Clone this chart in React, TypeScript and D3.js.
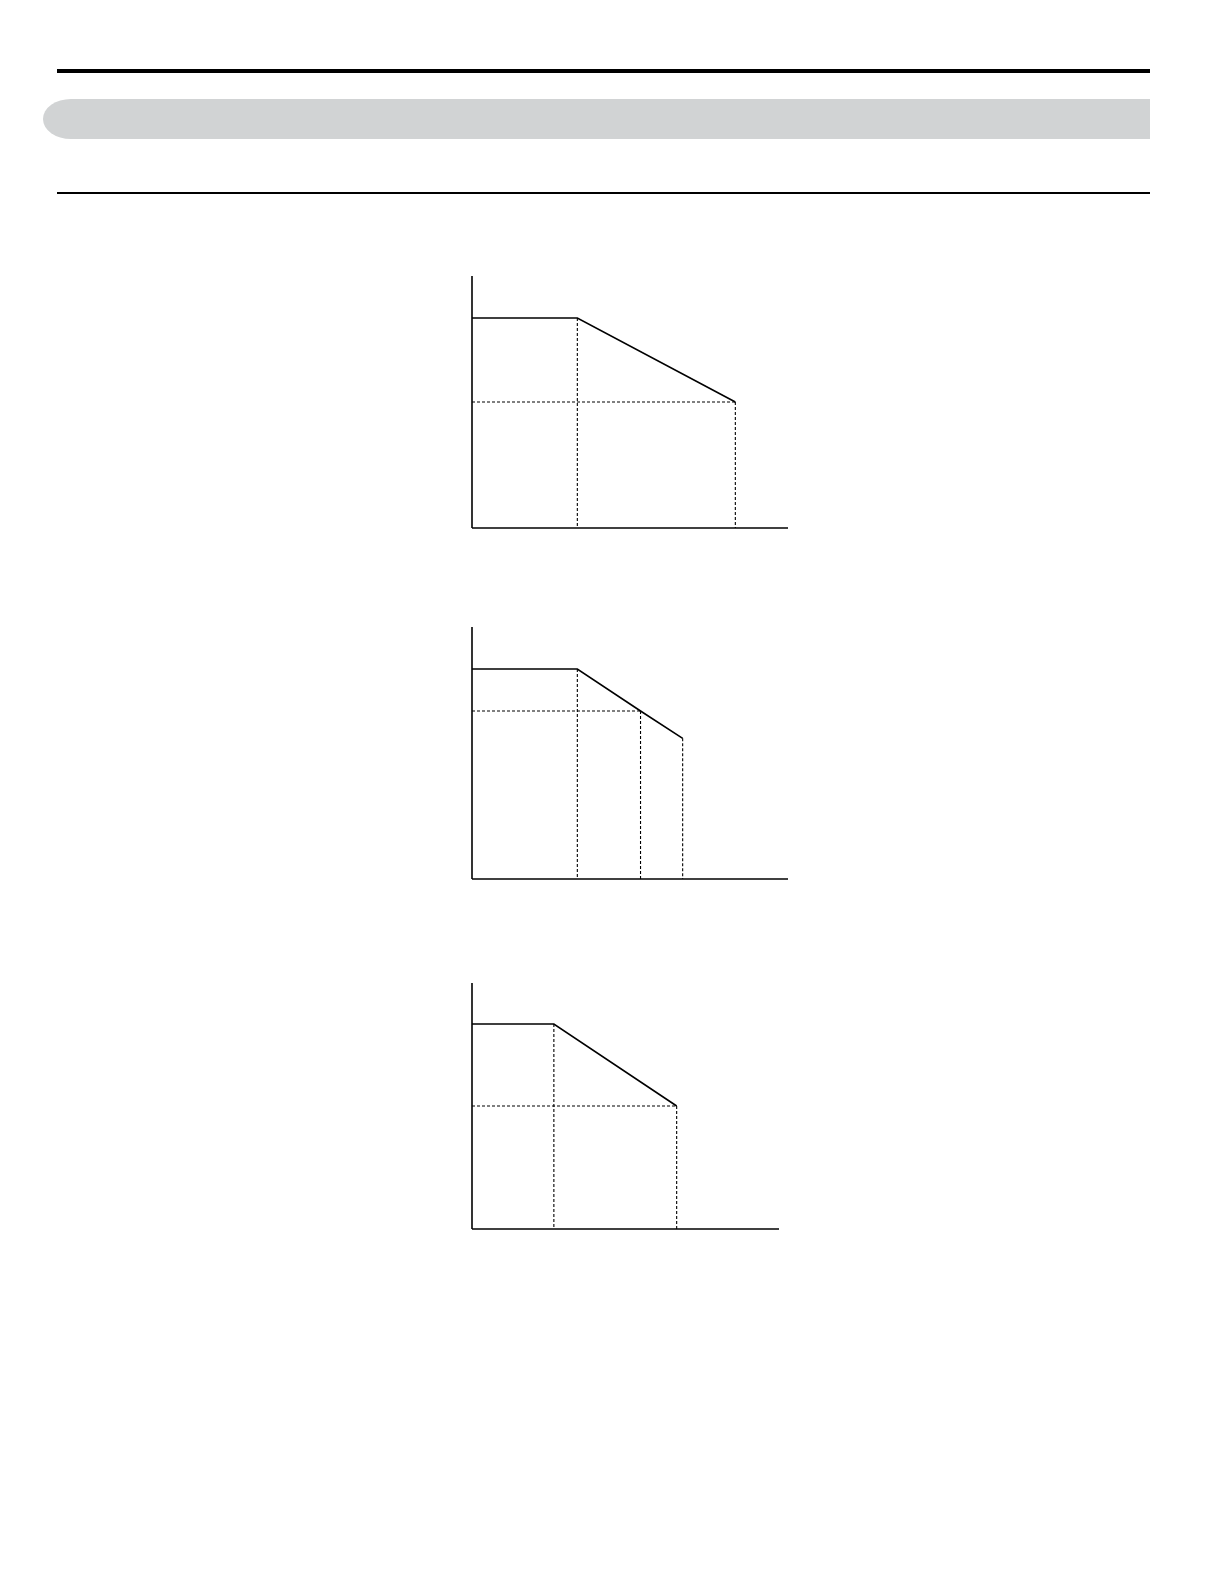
import React, { useRef, useEffect } from "react";
import * as d3 from "d3";

// Derating curves: x = setting value, y = percent of rated output
const chart1Points = [
  { x: 0, y: 100 },
  { x: 2, y: 100 },
  { x: 5, y: 60 },
];
const chart1VGuides = [
  { x: 2, y: 100 },
  { x: 5, y: 60 },
];
const chart1HGuides = [{ x: 5, y: 60 }];

const chart2Points = [
  { x: 0, y: 100 },
  { x: 2, y: 100 },
  { x: 3.2, y: 80 },
  { x: 4, y: 67 },
];
const chart2VGuides = [
  { x: 2, y: 100 },
  { x: 3.2, y: 80 },
  { x: 4, y: 67 },
];
const chart2HGuides = [{ x: 3.2, y: 80 }];

const chart3Points = [
  { x: 0, y: 100 },
  { x: 1.6, y: 100 },
  { x: 4, y: 60 },
];
const chart3VGuides = [
  { x: 1.6, y: 100 },
  { x: 4, y: 60 },
];
const chart3HGuides = [{ x: 4, y: 60 }];

const xDomain: [number, number] = [0, 6];
const yDomain: [number, number] = [0, 120];

type Pt = { x: number; y: number };

export default function App() {
  const svgRef = useRef<SVGSVGElement>(null);

  useEffect(() => {
    if (!svgRef.current) return;
    const svg = d3.select(svgRef.current);
    svg.selectAll("*").remove();

    const width = 1224;
    const height = 1584;
    svg.attr("width", width).attr("height", height);

    svg.append("rect").attr("width", width).attr("height", height).attr("fill", "#ffffff");

    // Page header: thick rule, grey tab, thin rule
    svg.append("rect")
      .attr("x", 57).attr("y", 69)
      .attr("width", 1150 - 57).attr("height", 4)
      .attr("fill", "#000000");

    const tabTop = 99, tabBottom = 139, tabLeft = 43, tabRight = 1150;
    const rx = 28, ry = (tabBottom - tabTop) / 2;
    svg.append("path")
      .attr("d",
        `M${tabLeft + rx},${tabTop} L${tabRight},${tabTop} L${tabRight},${tabBottom} L${tabLeft + rx},${tabBottom} ` +
        `A${rx},${ry} 0 0 1 ${tabLeft + rx},${tabTop} Z`)
      .attr("fill", "#d1d3d4");

    svg.append("rect")
      .attr("x", 57).attr("y", 192)
      .attr("width", 1150 - 57).attr("height", 2)
      .attr("fill", "#000000");

    // Charts
    const charts: Array<{
      points: Pt[];
      vGuides: Pt[];
      hGuides: Pt[];
      left: number; right: number; top: number; bottom: number;
    }> = [
      { points: chart1Points, vGuides: chart1VGuides, hGuides: chart1HGuides, left: 472, right: 788, top: 276, bottom: 528 },
      { points: chart2Points, vGuides: chart2VGuides, hGuides: chart2HGuides, left: 472, right: 788, top: 627, bottom: 879 },
      { points: chart3Points, vGuides: chart3VGuides, hGuides: chart3HGuides, left: 472, right: 779, top: 983, bottom: 1229 },
    ];

    charts.forEach((c) => {
      const xScale = d3.scaleLinear().domain(xDomain).range([c.left, c.right]);
      const yScale = d3.scaleLinear().domain(yDomain).range([c.bottom, c.top]);
      const g = svg.append("g");

      // Dashed guides
      c.vGuides.forEach((p) => {
        g.append("line")
          .attr("x1", xScale(p.x)).attr("x2", xScale(p.x))
          .attr("y1", yScale(p.y)).attr("y2", yScale(0))
          .attr("stroke", "#000").attr("stroke-width", 1.1)
          .attr("stroke-dasharray", "3,2");
      });
      c.hGuides.forEach((p) => {
        g.append("line")
          .attr("x1", xScale(0)).attr("x2", xScale(p.x))
          .attr("y1", yScale(p.y)).attr("y2", yScale(p.y))
          .attr("stroke", "#000").attr("stroke-width", 1.1)
          .attr("stroke-dasharray", "3,2");
      });

      // Curve
      const line = d3.line<Pt>().x(d => xScale(d.x)).y(d => yScale(d.y));
      g.append("path")
        .datum(c.points)
        .attr("fill", "none")
        .attr("stroke", "#000")
        .attr("stroke-width", 1.6)
        .attr("d", line);

      // Axes (plain lines, no ticks)
      g.append("line")
        .attr("x1", xScale(0)).attr("x2", xScale(0))
        .attr("y1", yScale(yDomain[1])).attr("y2", yScale(0))
        .attr("stroke", "#000").attr("stroke-width", 1.6);
      g.append("line")
        .attr("x1", xScale(0)).attr("x2", xScale(xDomain[1]))
        .attr("y1", yScale(0)).attr("y2", yScale(0))
        .attr("stroke", "#000").attr("stroke-width", 1.6);
    });
  }, []);

  return (
    <svg
      ref={svgRef}
      style={{ position: "absolute", left: 0, top: 0, display: "block" }}
    />
  );
}
